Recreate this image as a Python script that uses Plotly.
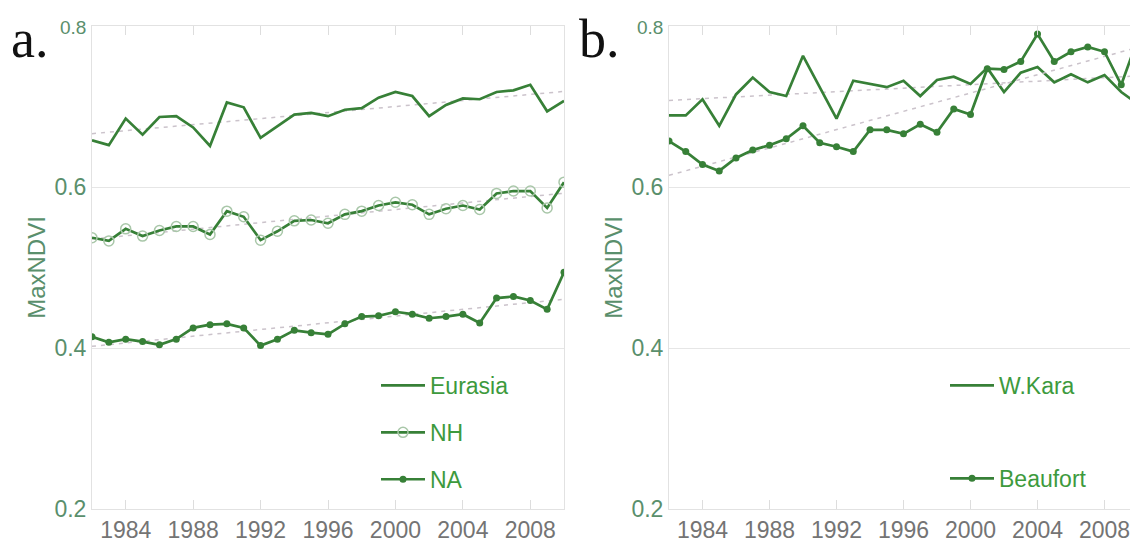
import numpy as np
import plotly.graph_objects as go

years = list(range(1982, 2011))

eurasia = [0.658, 0.652, 0.685, 0.665, 0.687, 0.688, 0.674, 0.651, 0.705, 0.699,
           0.661, 0.676, 0.690, 0.692, 0.688, 0.696, 0.698, 0.711, 0.718, 0.713,
           0.688, 0.702, 0.710, 0.709, 0.718, 0.720, 0.727, 0.694, 0.707]
nh = [0.537, 0.533, 0.548, 0.539, 0.546, 0.551, 0.551, 0.541, 0.570, 0.563,
      0.534, 0.545, 0.558, 0.559, 0.555, 0.566, 0.570, 0.577, 0.581, 0.578,
      0.566, 0.573, 0.577, 0.572, 0.592, 0.595, 0.595, 0.574, 0.606]
na = [0.414, 0.407, 0.411, 0.408, 0.404, 0.411, 0.425, 0.429, 0.430, 0.425,
      0.403, 0.411, 0.422, 0.419, 0.417, 0.430, 0.439, 0.440, 0.445, 0.442,
      0.437, 0.439, 0.442, 0.431, 0.462, 0.464, 0.459, 0.448, 0.494]
wkara = [0.689, 0.689, 0.709, 0.676, 0.715, 0.736, 0.718, 0.713, 0.763, 0.724,
         0.685, 0.732, 0.728, 0.724, 0.732, 0.713, 0.733, 0.737, 0.728, 0.748,
         0.718, 0.742, 0.749, 0.730, 0.740, 0.730, 0.739, 0.718, 0.703]
beaufort = [0.657, 0.644, 0.628, 0.620, 0.636, 0.646, 0.652, 0.660, 0.676, 0.655,
            0.650, 0.644, 0.671, 0.671, 0.666, 0.678, 0.668, 0.697, 0.690, 0.747,
            0.746, 0.756, 0.790, 0.756, 0.768, 0.774, 0.768, 0.727, 0.785]

xtick_vals = [1984, 1988, 1992, 1996, 2000, 2004, 2008]
ytick_vals = [0.2, 0.4, 0.6, 0.8]
ytick_text = ["0.2", "0.4", "0.6", "<span style='font-size:19px'>0.8</span>"]

LINE = "#378037"
LIGHT = "#a9c7a9"
TREND = "#cbc3cb"
LEG = "#3d9a3d"
TICKY = "#5a8f6c"
TICKX = "#747474"
GRID = "#e6e6e6"
W, H = 1138, 548

def trend(vals):
    x = np.array(years, dtype=float)
    m, b = np.polyfit(x, np.array(vals), 1)
    return list(m * x + b)

fig = go.Figure()

# Panel a
for vals, name, marker, grp in [
    (eurasia, "Eurasia", None, "g1"),
    (nh, "NH", dict(symbol="circle-open", size=10, color=LIGHT, line=dict(width=1.5)), "g2"),
    (na, "NA", dict(symbol="circle", size=7, color=LINE), "g3"),
]:
    fig.add_trace(go.Scatter(x=years, y=trend(vals), mode="lines",
                             line=dict(color=TREND, width=1.5, dash="4px,5px"),
                             showlegend=False, xaxis="x", yaxis="y", hoverinfo="skip"))
    fig.add_trace(go.Scatter(x=years, y=vals, name=name,
                             mode="lines+markers" if marker else "lines",
                             line=dict(color=LINE, width=2.7),
                             marker=marker, legend="legend", legendgroup=grp,
                             xaxis="x", yaxis="y"))

# Panel b
for vals, name, marker, grp in [
    (wkara, "W.Kara", None, "h1"),
    (beaufort, "Beaufort", dict(symbol="circle", size=7, color=LINE), "h2"),
]:
    fig.add_trace(go.Scatter(x=years, y=trend(vals), mode="lines",
                             line=dict(color=TREND, width=1.5, dash="4px,5px"),
                             showlegend=False, xaxis="x2", yaxis="y2", hoverinfo="skip"))
    fig.add_trace(go.Scatter(x=years, y=vals, name=name,
                             mode="lines+markers" if marker else "lines",
                             line=dict(color=LINE, width=2.7),
                             marker=marker, legend="legend2", legendgroup=grp,
                             xaxis="x2", yaxis="y2"))

FONT = "Liberation Sans, Arial"
xcommon = dict(range=[1982, 2010], tickvals=xtick_vals, ticks="inside", ticklen=9,
               tickcolor="#dddddd", showline=True, linecolor="#e2e2e2", mirror="ticks",
               showgrid=False, zeroline=False, automargin=False,
               tickfont=dict(family=FONT, size=23, color=TICKX))
ycommon = dict(range=[0.2, 0.8], tickvals=ytick_vals, ticktext=ytick_text,
               showgrid=True, gridcolor=GRID, showline=True, linecolor="#e2e2e2", mirror=True,
               zeroline=False, ticks="", automargin=False,
               tickfont=dict(family=FONT, size=23, color=TICKY),
               title=dict(text="MaxNDVI", standoff=2,
                          font=dict(family=FONT, size=24, color=TICKY)))

ydom = [(H - 501) / H, (H - 18) / H]
fig.update_layout(
    width=W, height=H,
    margin=dict(l=0, r=0, t=0, b=0),
    paper_bgcolor="white", plot_bgcolor="white",
    xaxis=dict(domain=[84 / W, 556 / W], anchor="y", **xcommon),
    yaxis=dict(domain=ydom, anchor="x", **ycommon),
    xaxis2=dict(domain=[661 / W, 1130 / W], anchor="y2", **xcommon),
    yaxis2=dict(domain=ydom, anchor="x2", **ycommon),
    legend=dict(x=368 / W, y=(H - 356) / H, xanchor="left", yanchor="top",
                bgcolor="rgba(255,255,255,0)", tracegroupgap=14, itemwidth=44,
                font=dict(family=FONT, size=23, color=LEG)),
    legend2=dict(x=937 / W, y=(H - 356) / H, xanchor="left", yanchor="top",
                 bgcolor="rgba(255,255,255,0)", tracegroupgap=60, itemwidth=44,
                 font=dict(family=FONT, size=23, color=LEG)),
    annotations=[
        dict(text="a.", x=2 / W, y=1, xref="paper", yref="paper",
             xanchor="left", yanchor="top", showarrow=False, borderpad=0,
             font=dict(family="Liberation Serif, Times New Roman", size=54, color="#111111")),
        dict(text="b.", x=570 / W, y=1, xref="paper", yref="paper",
             xanchor="left", yanchor="top", showarrow=False, borderpad=0,
             font=dict(family="Liberation Serif, Times New Roman", size=54, color="#111111")),
    ],
)

fig.write_html("out.html")
